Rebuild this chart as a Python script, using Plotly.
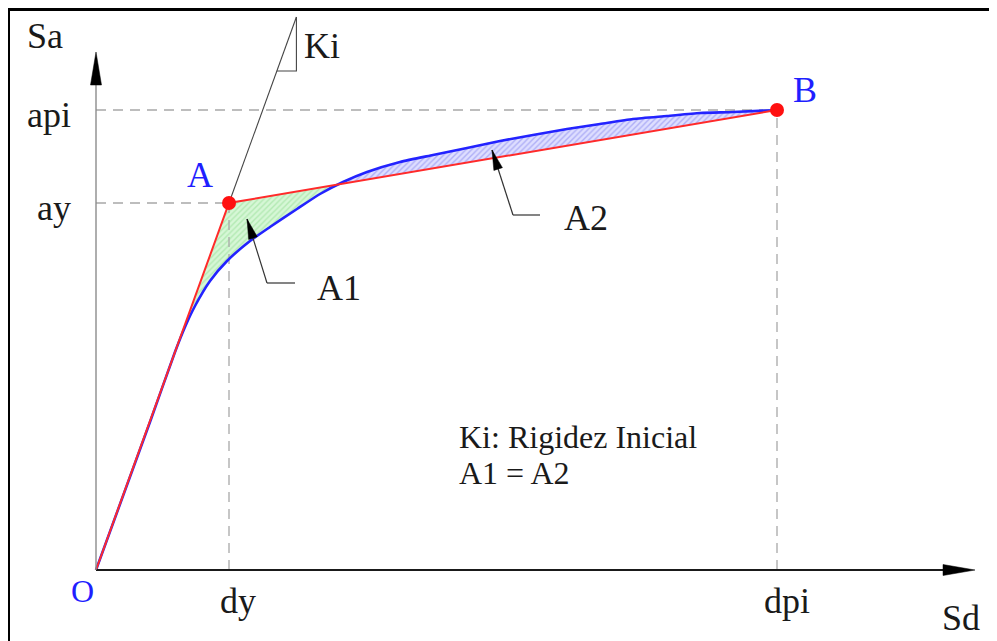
import numpy as np
import plotly.graph_objects as go

# ---------------- data (diagram units, origin O = (0, 0)) ----------------
dy, ay = 133, 367          # yield point A
dpi, api = 681, 460        # performance point B

# capacity curve (blue)
cap_sd = [0, 54, 79, 89, 99, 114, 131, 154, 174, 201, 224, 247, 271, 304, 337,
          371, 404, 437, 471, 504, 537, 571, 604, 637, 681]
cap_sa = [0, 148, 218, 243, 264, 289, 309, 329, 343, 361, 376, 388, 398, 408, 415,
          422, 429, 435, 441, 446, 451, 454, 457, 458, 460]

# bilinear representation (red): O -> A -> B
bil_sd = [0, dy, dpi]
bil_sa = [0, ay, api]

# initial stiffness line Ki extends to this height; its small triangle at this height
ki_top = 553
ki_tri = 499

# axis extents
x_end, y_end = 879, 518

# ---------------- geometry helpers ----------------
cap_sd_a = np.array(cap_sd, float)
cap_sa_a = np.array(cap_sa, float)
red_at = np.interp(cap_sd_a, bil_sd, bil_sa)
diff = cap_sa_a - red_at
k = None
for i in range(len(diff) - 1):
    if cap_sd_a[i] > dy and diff[i] < 0 <= diff[i + 1]:
        k = i
        break
t = -diff[k] / (diff[k + 1] - diff[k])
xc = cap_sd_a[k] + t * (cap_sd_a[k + 1] - cap_sd_a[k])
yc = cap_sa_a[k] + t * (cap_sa_a[k + 1] - cap_sa_a[k])

a1_x = list(cap_sd_a[:k + 1]) + [xc, dy, 0]
a1_y = list(cap_sa_a[:k + 1]) + [yc, ay, 0]
a2_x = [xc] + list(cap_sd_a[k + 1:]) + [xc]
a2_y = [yc] + list(cap_sa_a[k + 1:]) + [yc]

ki_slope = ay / dy

FONT = "Liberation Serif"
BLUE_T = "#1f1fff"

fig = go.Figure()

fig.add_trace(go.Scatter(x=a1_x, y=a1_y, fill="toself", mode="lines",
                         line=dict(width=0), fillcolor="#d2f5d2",
                         fillpattern=dict(shape="/", bgcolor="#d6f7d6", fgcolor="#8fdc8f",
                                          size=4, solidity=0.35),
                         hoverinfo="skip"))
fig.add_trace(go.Scatter(x=a2_x, y=a2_y, fill="toself", mode="lines",
                         line=dict(width=0), fillcolor="#d8d8ff",
                         fillpattern=dict(shape="/", bgcolor="#dedeff", fgcolor="#8080ee",
                                          size=4, solidity=0.35),
                         hoverinfo="skip"))

dash_style = dict(color="#a8a8a8", width=1.3, dash="10px,7px")
for xs, ys in [([0, dy], [ay, ay]), ([dy, dy], [0, ay]),
               ([0, dpi], [api, api]), ([dpi, dpi], [0, api])]:
    fig.add_trace(go.Scatter(x=xs, y=ys, mode="lines", line=dash_style, hoverinfo="skip"))

fig.add_trace(go.Scatter(x=[dy, ki_top / ki_slope], y=[ay, ki_top], mode="lines",
                         line=dict(color="#444444", width=1.1), hoverinfo="skip"))
fig.add_trace(go.Scatter(x=[ki_tri / ki_slope, ki_top / ki_slope, ki_top / ki_slope],
                         y=[ki_tri, ki_tri, ki_top], mode="lines",
                         line=dict(color="#444444", width=1.1), hoverinfo="skip"))

fig.add_trace(go.Scatter(x=cap_sd, y=cap_sa, mode="lines",
                         line=dict(color="#2323ff", width=2.6, shape="spline", smoothing=0.6),
                         hoverinfo="skip"))
fig.add_trace(go.Scatter(x=bil_sd, y=bil_sa, mode="lines",
                         line=dict(color="#ff2a2a", width=2), hoverinfo="skip"))
fig.add_trace(go.Scatter(x=[dy, dpi], y=[ay, api], mode="markers",
                         marker=dict(color="#ff1010", size=14), hoverinfo="skip"))

shapes = []


def head(tip, frm, length, hw, color="black"):
    tip = np.array(tip, float)
    frm = np.array(frm, float)
    u = (tip - frm) / np.linalg.norm(tip - frm)
    n = np.array([-u[1], u[0]])
    b = tip - u * length
    p1 = b + n * hw
    p2 = b - n * hw
    path = f"M{tip[0]},{tip[1]} L{p1[0]},{p1[1]} L{p2[0]},{p2[1]} Z"
    return dict(type="path", path=path, xref="x", yref="y",
                fillcolor=color, line=dict(color=color, width=0.5))


def seg(x0, y0, x1, y1, color, width):
    return dict(type="line", x0=x0, y0=y0, x1=x1, y1=y1, xref="x", yref="y",
                line=dict(color=color, width=width))


shapes.append(seg(0, 0, x_end - 20, 0, "#1a1a1a", 2))
shapes.append(head((x_end, 0), (0, 0), 32, 5.5))
shapes.append(seg(0, 0, 0, y_end - 20, "#8c8c8c", 1.4))
shapes.append(head((0, y_end), (0, 0), 33, 5.5))

a1_tip, a1_elb, a1_end = (151, 351), (171, 287), (199, 287)
shapes.append(seg(a1_elb[0], a1_elb[1], a1_tip[0], a1_tip[1], "#333333", 1.2))
shapes.append(seg(a1_elb[0], a1_elb[1], a1_end[0], a1_end[1], "#333333", 1.2))
shapes.append(head(a1_tip, a1_elb, 20, 4.5))
a2_tip, a2_elb, a2_end = (396, 420), (417, 355), (444, 355)
shapes.append(seg(a2_elb[0], a2_elb[1], a2_tip[0], a2_tip[1], "#333333", 1.2))
shapes.append(seg(a2_elb[0], a2_elb[1], a2_end[0], a2_end[1], "#333333", 1.2))
shapes.append(head(a2_tip, a2_elb, 20, 4.5))

# frame (left and top), in the diagram's coordinates
shapes.append(seg(-87.5, -80, -87.5, 560.5, "black", 3))
shapes.append(seg(-89, 560.5, 920, 560.5, "black", 3))

ann = []


def txt(x, y, s, size=36, color="#1a1a1a", xanchor="center"):
    ann.append(dict(x=x, y=y, xref="x", yref="y", text=s, showarrow=False,
                    xanchor=xanchor, yanchor="middle",
                    font=dict(family=FONT, size=size, color=color)))


txt(-51, 534, "Sa")
txt(-23, 455, "api", xanchor="right")
txt(-23, 362, "ay", xanchor="right")
txt(-14, -21, "O", size=32, color=BLUE_T)
txt(142, -31, "dy")
txt(691, -31, "dpi")
txt(865, -48, "Sd")
txt(104, 395, "A", color=BLUE_T)
txt(709, 480, "B", color=BLUE_T)
txt(206, 524, "Ki", xanchor="left")
txt(219, 282, "A1", xanchor="left")
txt(466, 352, "A2", xanchor="left")
txt(361, 133, "Ki: Rigidez Inicial", size=32, xanchor="left")
txt(361, 97, "A1 = A2", size=32, xanchor="left")

# the page body has an 8px margin: the figure is sized to end at the window edge
fig.update_layout(
    width=989, height=633,
    margin=dict(l=0, r=0, t=0, b=0),
    paper_bgcolor="white", plot_bgcolor="white",
    showlegend=False,
    xaxis=dict(range=[-88, 901], visible=False, fixedrange=True),
    yaxis=dict(range=[-71, 562], visible=False, fixedrange=True),
    shapes=shapes,
    annotations=ann,
)

fig.write_html("out.html")
